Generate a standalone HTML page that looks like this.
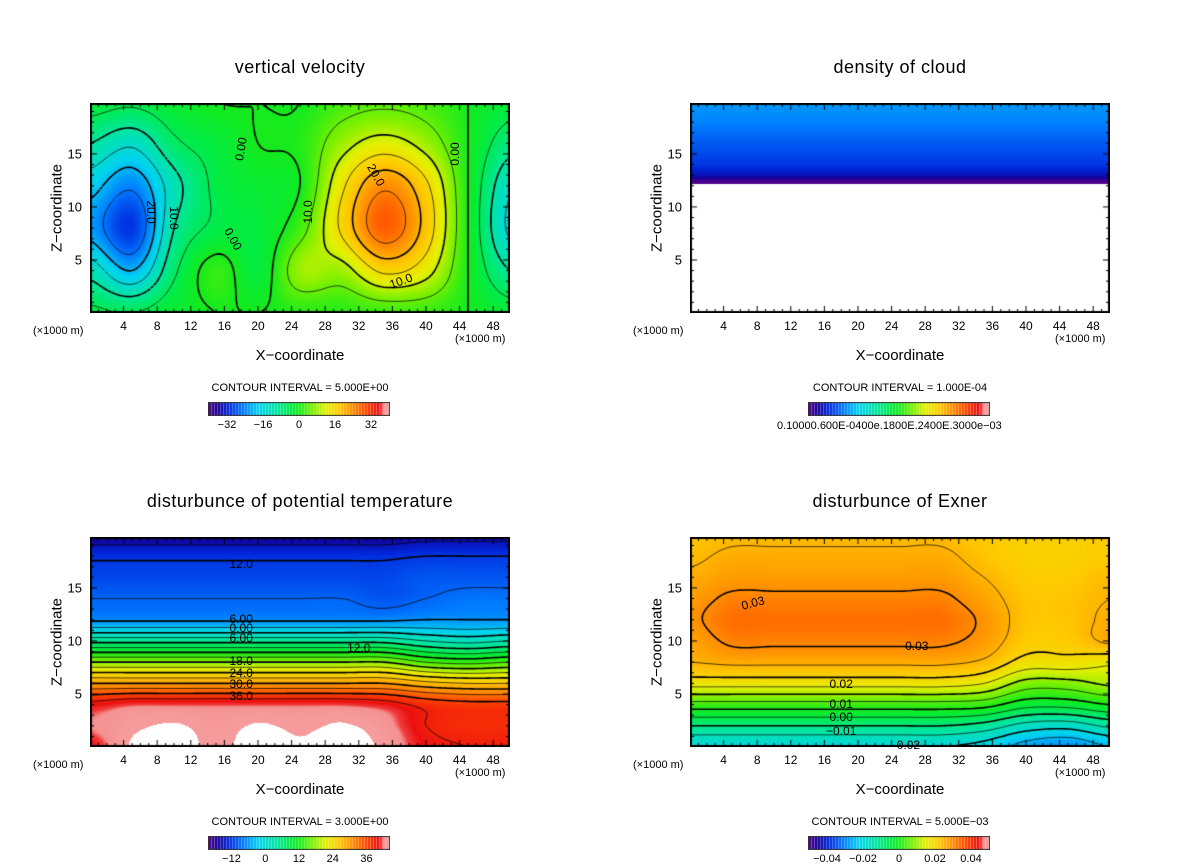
<!DOCTYPE html>
<html><head><meta charset="utf-8">
<style>
body{margin:0;background:#fff;width:1200px;height:868px;position:relative;overflow:hidden;font-family:"Liberation Sans",sans-serif;}
.t{position:absolute;white-space:nowrap;color:#000}
canvas{position:absolute}
</style></head><body>
<div id="root"></div>
<script>
// ---- data grids (x in km 0..50 step 5) ----
const xs=[0,5,10,15,20,25,30,35,40,45,50];
const zsV=[0,4,8,12,16,20];
const velocity=[
[-4,-5,-2,0,0,1,1,2,2,0,-3],
[-12,-20,-6,2,-3,8,8,16,12,0,-10],
[-22,-30,-10,-4,-3,3,16,28,18,0,-16],
[-18,-24,-12,-4,-2,0,14,24,16,0,-14],
[-10,-14,-6,-3,0,1,8,12,8,0,-8],
[-3,-4,-2,0,0,0,3,4,3,0,-3]];
const zs2=[0,2,4,6,8,10,12,14,16,18,20];
const theta=[
[40,45,46,44,46,45,46,44,40,39,39],
[42,44,45,43.5,45,44,45,43,39,38,38],
[40,41.5,41.5,41.5,41.5,41.5,41.5,40.5,38,37,37],
[30,30,30,30,30,30,30,30,28,27,27],
[18,18,18,18,18,18,18,18,15,14,15],
[5,5,5,5,5,5,5,5,3,2,3],
[-6.5,-6.5,-6.5,-6.5,-6.5,-6.5,-6.5,-6.5,-6,-6,-6],
[-9,-9,-9,-9,-9,-9,-9,-10,-9,-8,-8],
[-11,-11,-11,-11,-11,-11,-11,-11,-10,-10,-10],
[-12.5,-12.5,-12.5,-12.5,-12.5,-12.5,-12.5,-12.5,-12,-12,-12],
[-17,-17,-17,-17,-17,-17,-17,-17,-16,-16,-16]];
const exner=[
[-0.02,-0.02,-0.02,-0.02,-0.02,-0.02,-0.02,-0.022,-0.027,-0.029,-0.025],
[-0.01,-0.01,-0.01,-0.01,-0.01,-0.01,-0.01,-0.012,-0.017,-0.018,-0.014],
[0.003,0.003,0.003,0.003,0.003,0.003,0.003,0.002,-0.003,-0.003,0.0],
[0.017,0.017,0.017,0.017,0.017,0.017,0.017,0.015,0.008,0.008,0.011],
[0.025,0.026,0.026,0.026,0.026,0.026,0.026,0.024,0.018,0.018,0.016],
[0.027,0.031,0.031,0.031,0.031,0.031,0.031,0.028,0.022,0.022,0.026],
[0.029,0.033,0.033,0.033,0.033,0.033,0.033,0.029,0.023,0.023,0.026],
[0.028,0.031,0.031,0.031,0.031,0.031,0.031,0.027,0.023,0.023,0.025],
[0.026,0.028,0.028,0.028,0.028,0.028,0.028,0.025,0.022,0.022,0.024],
[0.024,0.026,0.026,0.026,0.026,0.026,0.026,0.023,0.021,0.021,0.022],
[0.023,0.024,0.024,0.024,0.024,0.024,0.024,0.022,0.021,0.021,0.022]];
const cloudZ=[0,12.2,12.4,13,14,16,18,20];
const cloudVals=[0,0,0.1,0.32,0.46,0.56,0.68,0.75];
const xTicks=[4,8,12,16,20,24,28,32,36,40,44,48];
const zTicks=[5,10,15];
const cbVel=["-32","-16","0","16","32"], cbVelPos=[-32,-16,0,16,32];
const cbTh=["-12","0","12","24","36"], cbThPos=[-12,0,12,24,36];
const cbEx=["-0.04","-0.02","0","0.02","0.04"], cbExPos=[-0.04,-0.02,0,0.02,0.04];

const stops=[[-1,80,0,140],[-0.9,20,0,150],[-0.78,0,40,220],[-0.62,0,120,255],[-0.45,0,210,240],[-0.25,0,230,160],[-0.1,0,235,70],[0,20,235,30],[0.15,120,240,0],[0.3,230,240,0],[0.45,255,200,0],[0.6,255,140,0],[0.75,255,70,0],[0.88,235,15,15],[0.92,240,60,60],[0.94,245,145,145],[1,246,155,155]];
function cmap(t){
 if(t>1.02) return [255,255,255];
 if(t<-1) t=-1; if(t>1)t=1;
 for(let i=1;i<stops.length;i++){ if(t<=stops[i][0]){const a=stops[i-1],b=stops[i],f=(t-a[0])/(b[0]-a[0]);return [a[1]+f*(b[1]-a[1]),a[2]+f*(b[2]-a[2]),a[3]+f*(b[3]-a[3])];}}
 return [246,155,155];
}
function idx(arr,v){let i=0;while(i<arr.length-2&&v>arr[i+1])i++;return [i,(v-arr[i])/(arr[i+1]-arr[i])];}
function cr(p0,p1,p2,p3,t){return 0.5*(2*p1+(-p0+p2)*t+(2*p0-5*p1+4*p2-p3)*t*t+(-p0+3*p1-3*p2+p3)*t*t*t);}
function sample(grid,zs,x,z){const [i,fx]=idx(xs,x),[j,fz]=idx(zs,z);
 const nI=xs.length,nJ=zs.length,gi=k=>Math.max(0,Math.min(nI-1,k)),gj=k=>Math.max(0,Math.min(nJ-1,k));
 const rows=[];for(let m=-1;m<=2;m++){const r=grid[gj(j+m)];rows.push(cr(r[gi(i-1)],r[gi(i)],r[gi(i+1)],r[gi(i+2)],fx));}
 return cr(rows[0],rows[1],rows[2],rows[3],fz);}
const root=document.getElementById('root');
function txt(s,x,y,size,name,extra){const d=document.createElement('div');d.className='t';d.textContent=s;d.style.left=x+'px';d.style.top=y+'px';d.style.fontSize=size+'px';if(extra)Object.assign(d.style,extra);


root.appendChild(d);return d;}
const W=420,H=210,ZMAX=19.8;
function panel(ox,oy,title,fn,mid,half,levels,boldEvery,labels,cbLabels,cbPos,interval,name){
 txt(title,ox+210,oy-46,18,name+'-title',{transform:'translateX(-50%)',letterSpacing:'0.5px'});
 const cv=document.createElement('canvas');cv.width=W;cv.height=H;cv.style.left=ox+'px';cv.style.top=oy+'px';
 
 
 root.appendChild(cv);const g=cv.getContext('2d');const im=g.createImageData(W,H);
 for(let py=0;py<H;py++)for(let px=0;px<W;px++){const x=px/W*50,z=(H-py)/H*ZMAX;const v=fn(x,z);let c;
  if(v===null)c=[255,255,255];else c=cmap((v-mid)/half);const k=(py*W+px)*4;im.data[k]=c[0];im.data[k+1]=c[1];im.data[k+2]=c[2];im.data[k+3]=255;}
 g.putImageData(im,0,0);
 const s=3,nx=Math.ceil(W/s)+1,ny=Math.ceil(H/s)+1,F=[];
 for(let j=0;j<ny;j++){F.push([]);for(let i=0;i<nx;i++){const v=fn(i*s/W*50,(H-j*s)/H*ZMAX);F[j].push(v===null?1e9:v);}}
 levels.forEach(L=>{
  g.beginPath();
  for(let j=0;j<ny-1;j++)for(let i=0;i<nx-1;i++){
   const v=[F[j][i],F[j][i+1],F[j+1][i+1],F[j+1][i]],P=[[i,j],[i+1,j],[i+1,j+1],[i,j+1]],pts=[];
   for(let e=0;e<4;e++){const a=v[e],b=v[(e+1)%4];if((a<L)!==(b<L)){const f=(L-a)/(b-a);pts.push([(P[e][0]+f*(P[(e+1)%4][0]-P[e][0]))*s,(P[e][1]+f*(P[(e+1)%4][1]-P[e][1]))*s]);}}
   for(let p=0;p+1<pts.length;p+=2){g.moveTo(pts[p][0],pts[p][1]);g.lineTo(pts[p+1][0],pts[p+1][1]);}
  }
  const bold=Math.abs(L/boldEvery-Math.round(L/boldEvery))<1e-6;
  g.lineWidth=bold?1.6:0.7;g.strokeStyle='#000';g.setLineDash(L<-1e-9?[3,3]:[]);g.stroke();
 });
 g.setLineDash([]);
 g.strokeStyle='#000';g.lineWidth=1;g.beginPath();
 for(let x=1;x<50;x++){const px=x/50*W,l=(x%4==0)?7:4;g.moveTo(px,H);g.lineTo(px,H-l);g.moveTo(px,0);g.lineTo(px,l);}
 for(let z=1;z<ZMAX;z++){const py=H-z/ZMAX*H,l=(z%5==0)?7:4;g.moveTo(0,py);g.lineTo(l,py);g.moveTo(W,py);g.lineTo(W-l,py);}
 g.stroke();g.lineWidth=2;g.strokeRect(1,1,W-2,H-2);
 labels.forEach(([s2,x,z,rot])=>txt(s2,ox+x/50*W,oy+H-z/ZMAX*H,12,name+'-contour-label',{transform:'translate(-50%,-50%) rotate('+(rot||0)+'deg)'}));
 xTicks.forEach(x=>txt(String(x),ox+x/50*W,oy+H+6,12,name+'-x-tick',{transform:'translateX(-50%)'}));
 zTicks.forEach(z=>txt(String(z),ox-8,oy+H-z/ZMAX*H,13,name+'-z-tick',{transform:'translate(-100%,-50%)'}));
 txt('(×1000 m)',ox-57,oy+H+12,11,name+'-x-unit-left');
 txt('(×1000 m)',ox+365,oy+H+20,11,name+'-x-unit-right');
 txt('X−coordinate',ox+210,oy+H+34,15,name+'-x-axis-title',{transform:'translateX(-50%)'});
 txt('Z−coordinate',ox-33,oy+105,15,name+'-z-axis-title',{transform:'translate(-50%,-50%) rotate(-90deg)'});
 txt('CONTOUR INTERVAL = '+interval,ox+210,oy+H+69,11,name+'-contour-interval',{transform:'translateX(-50%)'});
 const cb=document.createElement('canvas');cb.width=182;cb.height=14;cb.style.left=(ox+118)+'px';cb.style.top=(oy+H+89)+'px';
 
 
 root.appendChild(cb);const c2=cb.getContext('2d');
 for(let i=0;i<60;i++){const c=cmap(-1+2*(i+0.5)/60);c2.fillStyle='rgb('+c.map(Math.round)+')';c2.fillRect(1+i*3,1,3,12);
  c2.fillStyle='rgba(255,255,255,0.35)';c2.fillRect(1+i*3+2,1,1,12);}
 c2.strokeStyle='#333';c2.strokeRect(0.5,0.5,181,13);
 cbLabels.forEach((l,k)=>{const t=(cbPos[k]-mid)/half;txt(l.replace('-','−'),ox+118+1+(t+1)/2*180,oy+H+106,11,name+'-colorbar-label',{transform:'translateX(-50%)'});});
}
panel(90,103,'vertical velocity',(x,z)=>sample(velocity,zsV,x,z),0,40,[-25,-20,-15,-10,-5,0,5,10,15,20,25],10,
 [['20.0',7.3,9.5,90],['10.0',10,9,90],['0.00',18,15.5,-80],['0.00',17,7,60],['10.0',26,9.5,-90],['20.0',34,13,60],['10.0',37,3,-20],['0.00',43.4,15,-90]],cbVel,cbVelPos,'5.000E+00','velocity');
panel(690,103,'density of cloud',(x,z)=>{if(z<12.25)return null;const [j,f]=idx(cloudZ,z);return cloudVals[j]+f*(cloudVals[j+1]-cloudVals[j]);},1.55,1.45,[],1,[],[],[],'1.000E-04','cloud');
txt('0.10000.600E-0400e.1800E.2400E.3000e−03',777,420,11,'cloud-colorbar-labels');
panel(90,537,'disturbunce of potential temperature',(x,z)=>sample(theta,zs2,x,z),12,32,[-15,-12,-9,-6,-3,0,3,6,9,12,15,18,21,24,27,30,33,36,39],6,
 [['12.0',18,17.3],['6.00',18,12.1],['0.00',18,11.2],['6.00',18,10.3],['12.0',32,9.3],['18.0',18,8.1],['24.0',18,7.0],['30.0',18,5.9],['36.0',18,4.8]],cbTh,cbThPos,'3.000E+00','theta');
panel(690,537,'disturbunce of Exner',(x,z)=>sample(exner,zs2,x,z),0,0.05,[-0.025,-0.02,-0.015,-0.01,-0.005,0,0.005,0.01,0.015,0.02,0.025,0.03],0.01,
 [['0.03',7.5,13.6,-15],['0.03',27,9.5],['0.02',18,5.9],['0.01',18,4.1],['0.00',18,2.8],['−0.01',18,1.5],['0.02',26,0.2]],cbEx,cbExPos,'5.000E−03','exner');
</script>
</body></html>
